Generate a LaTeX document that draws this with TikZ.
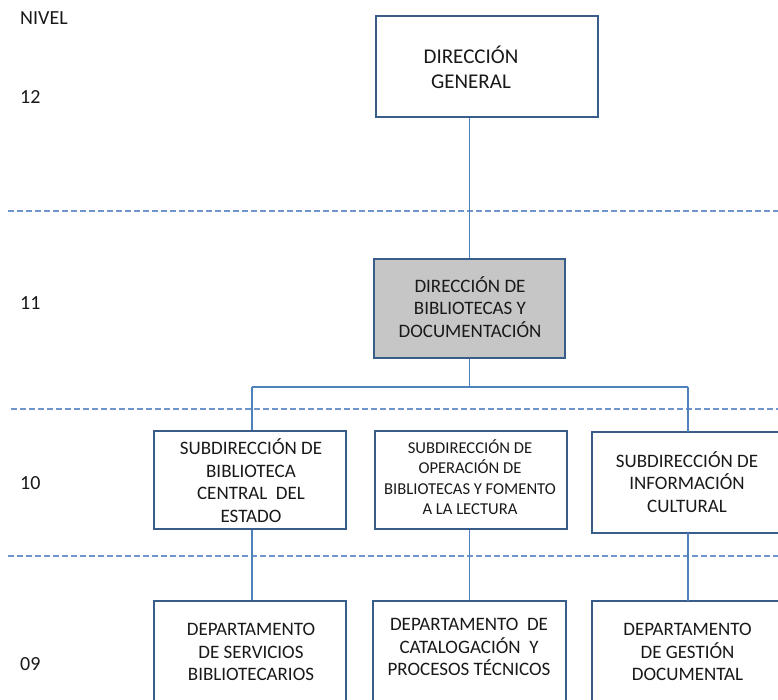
\documentclass[tikz,border=0pt]{standalone}
\usepackage{fontspec}
\setmainfont{Carlito}
\definecolor{boxblue}{HTML}{385D8A}
\definecolor{linkblue}{HTML}{4F81BD}
\definecolor{dashblue}{HTML}{6F95CC}
\definecolor{boxgray}{HTML}{C6C6C6}
\tikzset{
  orgbox/.style={draw=boxblue, line width=2.6pt, fill=white, inner sep=0pt},
  txt/.style={align=center, inner sep=0pt, text=black!90},
  big/.style={font=\fontsize{21}{25}\selectfont},
  mid/.style={font=\fontsize{19}{22.5}\selectfont},
  small/.style={font=\fontsize{16.6}{20.5}\selectfont},
  lvl/.style={anchor=west, inner sep=0pt, font=\fontsize{20}{24}\selectfont, text=black!90},
  link/.style={draw=linkblue, line width=1.4pt},
  levelline/.style={draw=dashblue, line width=1.4pt, dash pattern=on 6pt off 3pt}
}
\begin{document}
\begin{tikzpicture}[x=1pt,y=1pt]
\useasboundingbox (0,0) rectangle (778,699);
\clip (0,0) rectangle (778,699);
\fill[white] (0,0) rectangle (778,699);

% level separators
\coordinate (l1a) at (8,488);  \coordinate (l1b) at (778,488);
\coordinate (l2a) at (11,290); \coordinate (l2b) at (778,290);
\coordinate (l3a) at (8,143);  \coordinate (l3b) at (778,143);
\draw[levelline] (l1a) -- (l1b);
\draw[levelline] (l2a) -- (l2b);
\draw[levelline] (l3a) -- (l3b);

% level labels
\node[lvl] (nivel) at (20,681) {NIVEL};
\node[lvl] (n12) at (20,602) {12};
\node[lvl] (n11) at (20,396) {11};
\node[lvl] (n10) at (20,216) {10};
\node[lvl] (n09) at (20,35) {09};

% boxes
\node[orgbox, minimum width=222pt, minimum height=101pt] (dg) at (487,632.5) {};
\node[orgbox, fill=boxgray, minimum width=191pt, minimum height=99pt] (db) at (469.5,390.5) {};
\node[orgbox, minimum width=192pt, minimum height=98pt] (sA) at (250,219) {};
\node[orgbox, minimum width=192pt, minimum height=98pt] (sB) at (471,219) {};
\node[orgbox, minimum width=203pt, minimum height=101pt] (sC) at (693.5,216.5) {};
\node[orgbox, minimum width=192pt, minimum height=119pt] (dA) at (250,38.5) {};
\node[orgbox, minimum width=193pt, minimum height=119pt] (dB) at (469.5,38.5) {};
\node[orgbox, minimum width=203pt, minimum height=119pt] (dC) at (693.5,38.5) {};

% texts
\node[txt, big] (dgt) at (471,632) {DIRECCIÓN\\GENERAL};
\node[txt, mid] (dbt) at (470,392) {DIRECCIÓN DE\\BIBLIOTECAS Y\\DOCUMENTACIÓN};
\node[txt, mid] (sAt) at (251,218.5) {SUBDIRECCIÓN DE\\BIBLIOTECA\\CENTRAL\ \ DEL\\ESTADO};
\node[txt, small] (sBt) at (470,222) {SUBDIRECCIÓN DE\\OPERACIÓN DE\\BIBLIOTECAS Y FOMENTO\\A LA LECTURA};
\node[txt, mid] (sCt) at (687,217) {SUBDIRECCIÓN DE\\INFORMACIÓN\\CULTURAL};
\node[txt, mid] (dAt) at (251,47) {DEPARTAMENTO\\DE SERVICIOS\\BIBLIOTECARIOS};
\node[txt, mid] (dBt) at (469,52) {DEPARTAMENTO\ \ DE\\CATALOGACIÓN\ \ Y\\PROCESOS TÉCNICOS};
\node[txt, mid] (dCt) at (687.5,47) {DEPARTAMENTO\\DE GESTIÓN\\DOCUMENTAL};

% connectors
\coordinate (busL) at (252,312);
\coordinate (busR) at (688,312);
\coordinate (cTop) at (688,267);
\coordinate (cBot) at (688,166);
\coordinate (cLow) at (688,98);
\draw[link] (db.north) -- (db.north |- dg.south);
\draw[link] (db.south) -- (db.south |- busL);
\draw[link] (busL) -- (busR);
\draw[link] (busL) -- (busL |- sA.north);
\draw[link] (busR) -- (cTop);
\draw[link] (busL |- sA.south) -- (busL |- dA.north);
\draw[link] (db.south |- sB.south) -- (db.south |- dB.north);
\draw[link] (cBot) -- (cLow);
\end{tikzpicture}
\end{document}
